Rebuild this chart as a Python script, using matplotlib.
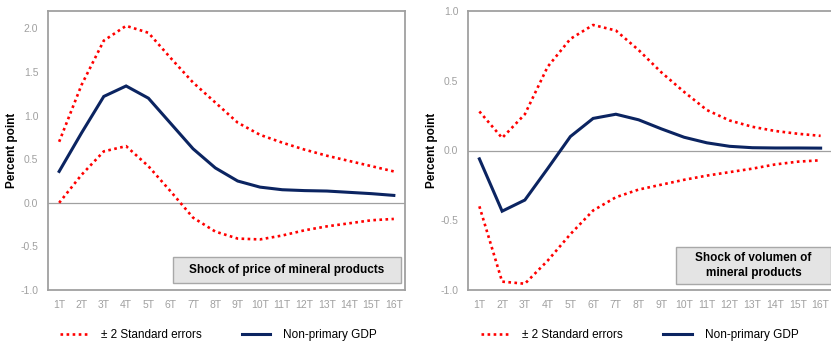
import matplotlib
matplotlib.use("Agg")
import matplotlib.pyplot as plt
from matplotlib.lines import Line2D
from matplotlib.patches import Rectangle

plt.rcParams["font.family"] = ["Liberation Sans", "DejaVu Sans"]

quarters = [f"{i}T" for i in range(1, 17)]

# shock of price of mineral products
price_gdp = [0.36, 0.80, 1.22, 1.34, 1.20, 0.91, 0.62, 0.40, 0.25, 0.18,
             0.15, 0.14, 0.135, 0.12, 0.105, 0.085]
price_upper = [0.70, 1.35, 1.86, 2.03, 1.95, 1.66, 1.38, 1.15, 0.92, 0.78,
               0.69, 0.61, 0.54, 0.48, 0.42, 0.36]
price_lower = [0.00, 0.32, 0.59, 0.65, 0.42, 0.13, -0.17, -0.33, -0.41, -0.42,
               -0.375, -0.315, -0.27, -0.235, -0.20, -0.185]

# shock of volume of mineral products
volume_gdp = [-0.06, -0.435, -0.355, -0.13, 0.10, 0.23, 0.26, 0.22, 0.155, 0.095,
              0.055, 0.03, 0.02, 0.018, 0.018, 0.017]
volume_upper = [0.28, 0.09, 0.26, 0.60, 0.80, 0.90, 0.86, 0.72, 0.56, 0.42,
                0.29, 0.215, 0.17, 0.14, 0.12, 0.105]
volume_lower = [-0.40, -0.94, -0.955, -0.79, -0.60, -0.43, -0.335, -0.28, -0.245, -0.21,
                -0.18, -0.155, -0.13, -0.10, -0.08, -0.07]

NAVY = "#0b2461"
RED = "#ff0000"
GRAY = "#a0a0a0"

W, H = 831, 341
fig = plt.figure(figsize=(W / 100, H / 100), dpi=100)


def px_axes(x0, x1, y0, y1):
    return fig.add_axes([x0 / W, 1 - y1 / H, (x1 - x0) / W, (y1 - y0) / H])


def draw_panel(ax, gdp, upper, lower, ylim, yticks, title, box, legend_x):
    x = list(range(1, len(quarters) + 1))
    dots = dict(color=RED, lw=1.9, linestyle=(0, (1.0, 1.3)))
    ax.plot(x, upper, **dots)
    ax.plot(x, lower, **dots)
    ax.plot(x, gdp, color=NAVY, lw=2.2, solid_joinstyle="miter")
    ax.axhline(0, color=GRAY, lw=0.9, zorder=0)

    ax.set_xlim(0.5, len(quarters) + 0.5)
    ax.set_ylim(*ylim)
    ax.set_xticks(x)
    ax.set_xticklabels(quarters)
    ax.set_yticks(yticks)
    ax.set_yticklabels([f"{v:.1f}" for v in yticks])
    ax.tick_params(length=0, labelsize=7.5, labelcolor=GRAY, pad=7)
    ax.tick_params(axis="x", pad=7)
    for s in ax.spines.values():
        s.set_color(GRAY)
        s.set_linewidth(1.3)
    ax.set_ylabel("Percent point", fontsize=8.5, fontweight="bold")
    ax.yaxis.set_label_coords(-0.083, 0.5)

    # grey caption box in the lower right corner
    bx0, by0, bx1, by1 = box
    ax.add_patch(Rectangle((bx0, by0), bx1 - bx0, by1 - by0, transform=ax.transAxes,
                           fc="#e4e4e4", ec="#a8a8a8", lw=1.0, zorder=5))
    ax.text((bx0 + bx1) / 2, (by0 + by1) / 2, title, transform=ax.transAxes,
            ha="center", va="center", fontsize=8.5, fontweight="bold",
            linespacing=1.3, zorder=6)

    handles = [Line2D([], [], **dots), Line2D([], [], color=NAVY, lw=2.2)]
    ax.legend(handles, ["\u00b1 2 Standard errors", "Non-primary GDP"], loc="center",
              bbox_to_anchor=(legend_x, -0.161), ncol=2, frameon=False, fontsize=8.5,
              handlelength=2.4, handletextpad=1.1, columnspacing=3.4)


ax1 = px_axes(48, 405, 11, 290)
draw_panel(ax1, price_gdp, price_upper, price_lower, (-1.0, 2.2),
           [-1.0, -0.5, 0.0, 0.5, 1.0, 1.5, 2.0],
           "Shock of price of mineral products", (0.350, 0.025, 0.989, 0.118), 0.477)

ax2 = px_axes(468, 832, 11, 290)
draw_panel(ax2, volume_gdp, volume_upper, volume_lower, (-1.0, 1.0),
           [-1.0, -0.5, 0.0, 0.5, 1.0],
           "Shock of volumen of\nmineral products", (0.571, 0.0215, 0.997, 0.154), 0.472)

fig.savefig("out.png", dpi=100)
